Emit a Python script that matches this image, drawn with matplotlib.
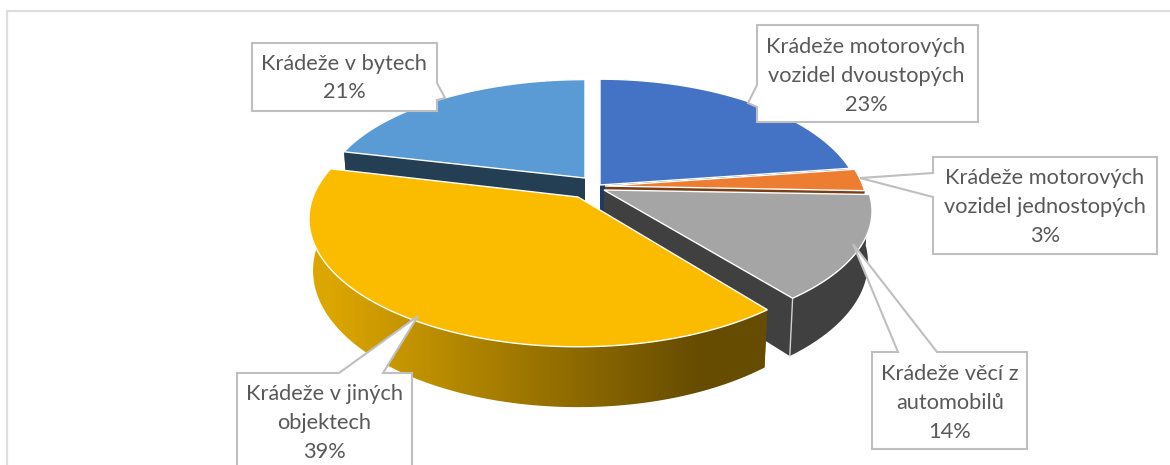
import numpy as np
import matplotlib
matplotlib.use("Agg")
import matplotlib.pyplot as plt
from matplotlib.colors import LinearSegmentedColormap
from matplotlib.patches import Polygon

plt.rcParams['font.family'] = ['Lato', 'DejaVu Sans']

labels = ['Krádeže motorových\nvozidel dvoustopých', 'Krádeže motorových\nvozidel jednostopých',
          'Krádeže věcí z\nautomobilů', 'Krádeže v jiných\nobjektech', 'Krádeže v bytech']
values = [22.8, 2.8, 13.8, 39.4, 21.2]

top_colors = ['#4472C4', '#ED7D31', '#A5A5A5', '#FBBC00', '#5B9BD5']
wall_colors = ['#1F3864', '#7A3F17', '#404040', '#6B4F00', '#243E54']

# slice apex in pixels (each slice is pulled out a bit)
apex = [(600, 185), (605, 186), (604, 190), (578, 197), (585, 178)]
ry_scale = [1.0, 1.0, 0.96, 1.0, 0.93]
radius = [258, 258, 264, 265, 258]

RY = 124
PERSP = 0.172
DEPTH = 50

edges = np.cumsum([0] + values) / sum(values) * 2 * np.pi


def project(i, r, ang, z=0.0):
    u = r * np.sin(ang)
    v = -r * np.cos(ang)
    s = 1 / (1 - PERSP * v)
    x = apex[i][0] + radius[i] * u * s * (1 - 0.015 * z)
    y = apex[i][1] + RY * ry_scale[i] * v * s + DEPTH * s * z
    return x, y


fig = plt.figure(figsize=(11.7, 4.65), dpi=100)
ax = fig.add_axes([0, 0, 1, 1])
ax.set_xlim(0, 1170)
ax.set_ylim(465, 0)
ax.axis('off')

# outer frame, the right side is cut off in the original
ax.plot([7, 7, 1175], [470, 11, 11], color='#DEDEDE', lw=1.6, zorder=1)

gold = LinearSegmentedColormap.from_list('gold', ['#DCA600', '#664C00'])

for i in [4, 0, 1, 2, 3]:
    ang = np.linspace(edges[i], edges[i + 1], 120)
    x0, y0 = project(i, 1, ang)
    x1, y1 = project(i, 1, ang, 1)
    ax0, ay0 = project(i, 0, 0.0)
    bx0, by0 = project(i, 0, 0.0, 1)
    z = 2 + i * 0.01 if i != 3 else 3

    # radial faces
    for k in [0, -1]:
        face = [(ax0, ay0), (x0[k], y0[k]), (x1[k], y1[k]), (bx0, by0)]
        ax.add_patch(Polygon(face, closed=True, fc=wall_colors[i], ec='none', zorder=z))

    # outer wall
    wall = np.column_stack([np.r_[x0, x1[::-1]], np.r_[y0, y1[::-1]]])
    if i == 3:
        clip = Polygon(wall, closed=True, fc='none', ec='none', transform=ax.transData)
        ax.add_patch(clip)
        grad = np.clip((np.linspace(300, 780, 480) - 330) / 370, 0, 1).reshape(1, -1)
        im = ax.imshow(grad, cmap=gold, aspect='auto', extent=(300, 780, 420, 200), zorder=z)
        im.set_clip_path(clip)
        ax.set_xlim(0, 1170)
        ax.set_ylim(465, 0)
    else:
        ax.add_patch(Polygon(wall, closed=True, fc=wall_colors[i], ec='none', zorder=z))

    # light edge between the faces of the gray slice
    if i == 2:
        ax.plot([x0[-1], x1[-1]], [y0[-1], y1[-1]], color='#D0D0D0', lw=1, zorder=z)

    # top
    top = np.column_stack([np.r_[ax0, x0], np.r_[ay0, y0]])
    ax.add_patch(Polygon(top, closed=True, fc=top_colors[i], ec='white', lw=1, joinstyle='miter', zorder=z + 0.001))

# data labels, callout outline in pixels
boxes = [
    [(757, 25), (978, 25), (978, 122), (757, 122), (757, 107), (748, 103), (757, 85)],
    [(933, 157), (1157, 157), (1157, 254), (933, 254), (933, 197), (860, 178), (933, 173)],
    [(872, 352), (898, 352), (853, 244), (937, 352), (1027, 352), (1027, 449), (872, 449)],
    [(237, 373), (339, 373), (418, 316), (383, 373), (412, 373), (412, 475), (237, 475)],
    [(252, 43), (437, 43), (437, 83), (445, 98), (437, 100), (437, 111), (252, 111)],
]
text_pos = [(866, 76), (1045, 207), (950, 403), (324, 423), (344, 78)]

for i, name in enumerate(labels):
    ax.add_patch(Polygon(boxes[i], closed=True, fc='white', ec='#BFBFBF', lw=1.5, joinstyle='miter', zorder=5))
    ax.text(text_pos[i][0], text_pos[i][1], f'{name}\n{round(values[i])}%', ha='center', va='center',
            fontsize=15.7, color='#595959', linespacing=1.56, zorder=6)

fig.savefig('out.png', dpi=100)
